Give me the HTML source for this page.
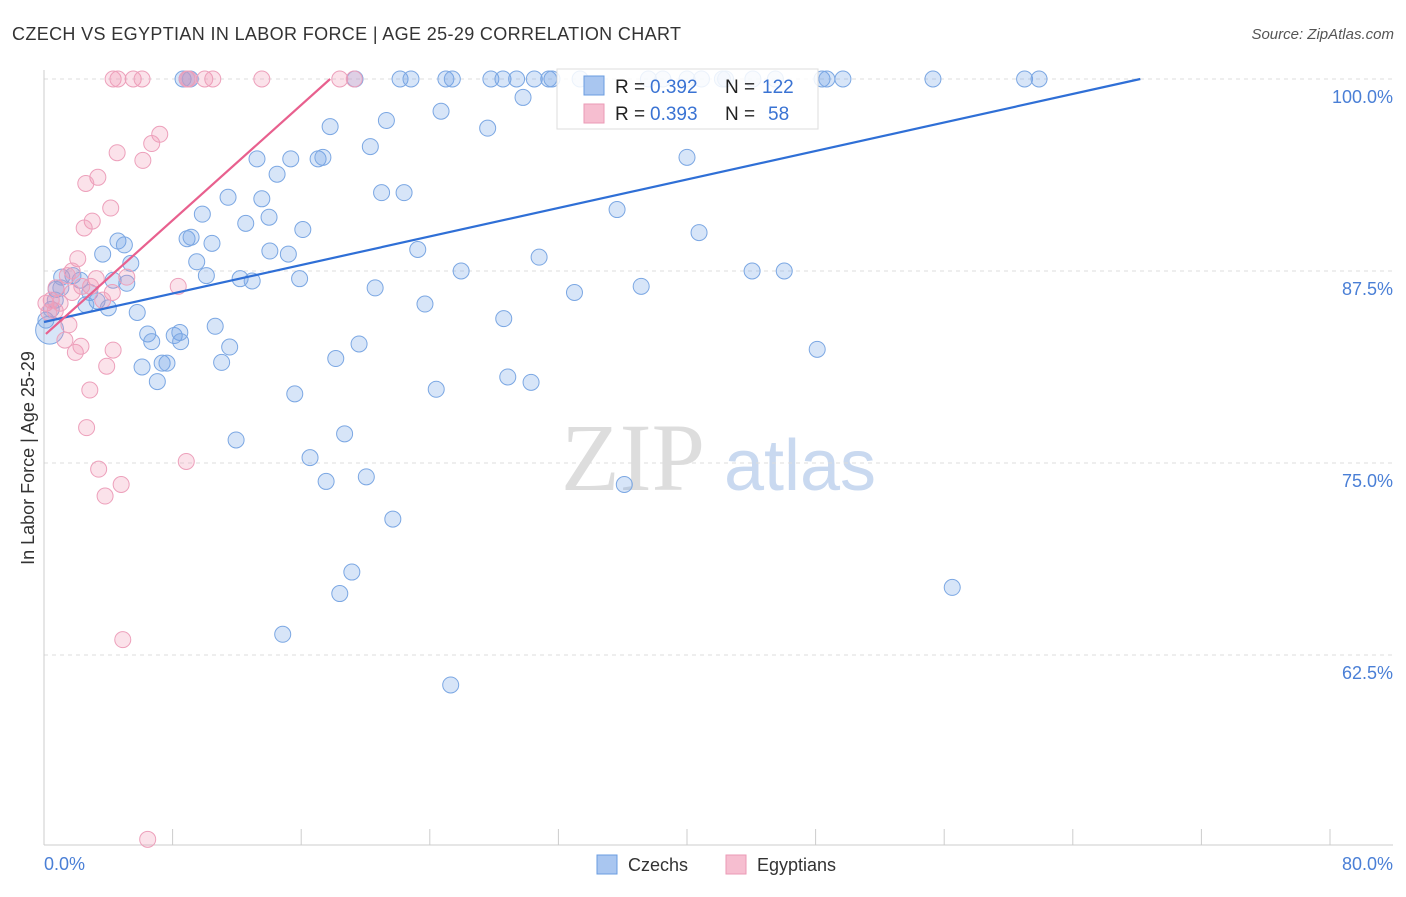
<!DOCTYPE html>
<html><head><meta charset="utf-8"><style>
body{margin:0;background:#fff;font-family:"Liberation Sans",sans-serif}
svg text{font-family:"Liberation Sans",sans-serif}
</style></head><body>
<svg id="chart" width="1406" height="892" xmlns="http://www.w3.org/2000/svg">
<text x="12" y="40" font-size="18" fill="#333" textLength="669">CZECH VS EGYPTIAN IN LABOR FORCE | AGE 25-29 CORRELATION CHART</text>
<text x="1394" y="39" font-size="15" fill="#555" text-anchor="end" font-style="italic">Source: ZipAtlas.com</text>
<text transform="translate(34,458) rotate(-90)" font-size="18" fill="#333" text-anchor="middle">In Labor Force | Age 25-29</text>
<g><text x="633" y="490" font-size="96" fill="#ddd" text-anchor="middle" font-family="Liberation Serif" style="font-family:'Liberation Serif',serif">ZIP</text><text x="800" y="490" font-size="72" fill="#c9d9f0" text-anchor="middle">atlas</text></g>
<g id="grid"></g><g id="ticks"></g>
<line x1="44" y1="70" x2="44" y2="845" stroke="#ccc"/>
<line x1="44" y1="845" x2="1393" y2="845" stroke="#ccc"/>
<g id="pts"></g><g id="lines"></g>
<text x="44" y="870" font-size="18" fill="#4a7fd6">0.0%</text>
<text x="1393" y="870" font-size="18" fill="#4a7fd6" text-anchor="end">80.0%</text>
<g>
<rect x="557" y="69" width="261" height="60" fill="#fff" fill-opacity="0.85" stroke="#ddd"/>
<rect x="584" y="76" width="20" height="19" fill="#a9c6f0" stroke="#6a9ce0"/>
<rect x="584" y="104" width="20" height="19" fill="#f6bed0" stroke="#eb9ab6"/>
<text x="615" y="93" font-size="19" fill="#222">R =</text>
<text x="650" y="93" font-size="19" fill="#3a73d3">0.392</text>
<text x="725" y="93" font-size="19" fill="#222">N =</text>
<text x="762" y="93" font-size="19" fill="#3a73d3">122</text>
<text x="615" y="120" font-size="19" fill="#222">R =</text>
<text x="650" y="120" font-size="19" fill="#3a73d3">0.393</text>
<text x="725" y="120" font-size="19" fill="#222">N =</text>
<text x="768" y="120" font-size="19" fill="#3a73d3">58</text>
</g>
<g><rect x="597" y="855" width="20" height="19" fill="#a9c6f0" stroke="#6a9ce0"/><text x="628" y="871" font-size="18" fill="#333">Czechs</text></g>
<g><rect x="726" y="855" width="20" height="19" fill="#f6bed0" stroke="#eb9ab6"/><text x="757" y="871" font-size="18" fill="#333">Egyptians</text></g>
</svg>
<script>
const yTicks=[100,87.5,75,62.5];
const yTickLabels=["100.0%","87.5%","75.0%","62.5%"];
const xTicks=[0,8,16,24,32,40,48,56,64,72,80];
const czX=[8.65,8.9,9.1,19.35,22.15,22.83,25.0,25.4,27.8,28.55,29.4,30.5,31.4,31.6,33.35,37.6,38.5,40.0,40.9,42.2,42.4,44.1,45.5,48.4,48.7,49.7,55.3,61.0,61.9,
17.8,21.3,24.7,27.6,29.8,20.3,13.25,15.35,17.05,17.35,14.5,21.0,22.4,11.45,13.55,9.85,14.0,12.55,16.1,8.9,9.15,10.45,4.6,5.0,3.65,14.05,15.2,23.25,30.8,35.65,40.0,40.75,9.5,10.1,5.4,25.95,15.9,12.2,12.95,44.05,46.05,37.15,33.0,20.6,23.7,28.6,1.1,1.8,2.25,0.75,1.05,2.85,3.3,4.0,2.6,4.3,5.15,5.8,10.65,6.45,6.7,8.1,8.45,8.5,11.55,19.6,18.15,48.1,6.1,7.05,7.35,7.65,11.05,24.4,28.85,30.3,15.6,11.95,18.7,16.55,17.55,20.05,36.1,21.7,19.15,18.4,14.85,25.3,56.5,0.12,0.45,0.7,0.35];
const czY=[100,100,100,100,100,100,100,100,100,100,100,100,100,100,100,100,100,100,100,100,100,100,100,100,100,100,100,100,100,
96.9,97.3,97.9,96.8,98.8,95.6,94.8,94.8,94.8,94.9,93.8,92.6,92.6,92.3,92.2,91.2,91.0,90.6,90.2,89.6,89.7,89.3,89.45,89.2,88.6,88.8,88.6,88.9,88.4,91.5,94.9,90.0,88.1,87.2,88.0,87.5,87.0,87.0,86.85,87.5,87.5,86.5,86.1,86.4,85.35,84.4,87.1,87.2,86.9,86.3,86.4,86.1,85.55,85.1,85.3,86.9,86.7,84.8,83.9,83.4,82.9,83.3,83.5,82.9,82.55,82.75,81.8,82.4,81.25,80.3,81.5,81.5,81.55,79.8,80.6,80.25,79.5,76.5,76.9,75.35,73.8,74.1,73.6,71.35,67.9,66.5,63.85,60.55,66.9,84.3,85.0,85.6,83.65];
const egX=[4.3,4.6,5.55,6.1,8.9,9.0,10.0,10.5,13.55,18.4,19.3,7.2,6.7,4.55,6.15,3.35,2.6,4.15,3.0,2.5,2.1,1.75,1.45,3.25,5.15,4.25,3.65,8.35,2.9,2.35,1.75,0.75,0.45,0.12,0.3,0.7,1.0,1.55,1.3,1.95,2.3,4.3,3.9,2.85,2.65,8.85,3.4,4.8,3.8,4.9,6.45];
const egY=[100,100,100,100,100,100,100,100,100,100,100,96.4,95.8,95.2,94.7,93.6,93.2,91.6,90.75,90.3,88.3,87.5,87.2,87.0,87.1,86.1,85.6,86.5,86.5,86.5,86.1,86.4,85.6,85.4,84.8,84.9,85.4,84.0,83.0,82.2,82.6,82.35,81.3,79.75,77.3,75.1,74.6,73.6,72.85,63.5,50.5];
const czTrend=[0,84.18,68.2,100];
const egTrend=[0.12,83.4,17.8,100];
const X=v=>44+v*16.075, Y=v=>79+(100-v)*15.36;
const NS="http://www.w3.org/2000/svg";
function mk(t,a,p){const e=document.createElementNS(NS,t);for(const k in a)e.setAttribute(k,a[k]);p.appendChild(e);return e;}
const grid=document.getElementById('grid'),ticks=document.getElementById('ticks');
yTicks.forEach((v,i)=>{
 const l=mk('line',{x1:44,x2:1393,y1:Y(v),y2:Y(v),stroke:'#ddd','stroke-dasharray':'4,4'},grid);
 
 
 const t=mk('text',{x:1393,y:Y(v)+24,'font-size':18,fill:'#4a7fd6','text-anchor':'end'},ticks);
 t.textContent=yTickLabels[i];
 
 
});
xTicks.forEach(v=>{
 const l=mk('line',{x1:X(v),x2:X(v),y1:829,y2:845,stroke:'#ccc'},ticks);
 
 
});
const pts=document.getElementById('pts');
czX.forEach((x,i)=>{
 const c=mk('circle',{cx:X(x),cy:Y(czY[i]),r:i===czX.length-1?14:8,fill:'rgba(110,160,230,0.28)',stroke:'#7ba7e3','stroke-width':1},pts);
 
 
});
egX.forEach((x,i)=>{
 const c=mk('circle',{cx:X(x),cy:Y(egY[i]),r:8,fill:'rgba(240,150,180,0.28)',stroke:'#eda0bb','stroke-width':1},pts);
 
 
});
const lines=document.getElementById('lines');
const l1=mk('line',{x1:X(czTrend[0]),y1:Y(czTrend[1]),x2:X(czTrend[2]),y2:Y(czTrend[3]),stroke:'#2f6fd6','stroke-width':2.2},lines);


const l2=mk('line',{x1:X(egTrend[0]),y1:Y(egTrend[1]),x2:X(egTrend[2]),y2:Y(egTrend[3]),stroke:'#e8608e','stroke-width':2.2},lines);


</script>
</body></html>
